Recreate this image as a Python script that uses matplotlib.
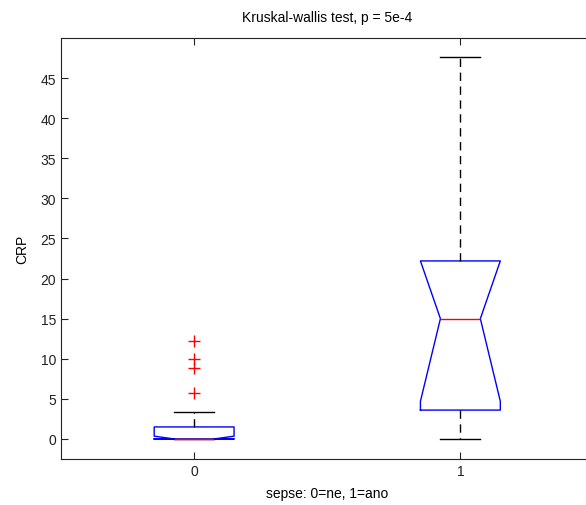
import matplotlib
matplotlib.use("Agg")
import matplotlib.pyplot as plt

# Box summary values (CRP by sepsis group)
groups = [0, 1]
q1 = [0.0, 3.6]
med = [0.0, 15.0]
q3 = [1.5, 22.2]
whislo = [0.0, 0.0]
whishi = [3.35, 47.6]
ci_lo = [0.0, 4.7]
ci_hi = [0.35, 22.2]
outliers = [[5.7, 8.9, 10.0, 12.2], []]
yticks = list(range(0, 50, 5))

stats = []
for i in range(len(groups)):
    stats.append(dict(med=med[i], q1=q1[i], q3=q3[i], whislo=whislo[i],
                      whishi=whishi[i], cilo=ci_lo[i], cihi=ci_hi[i],
                      fliers=outliers[i], label=str(groups[i])))

plt.rcParams['font.family'] = ['Liberation Sans', 'DejaVu Sans']
fig = plt.figure(figsize=(5.86, 5.06), dpi=100)
# axes run past the right edge of the picture, like the cropped original
ax = fig.add_axes([0.1041, 0.0909, 0.9087, 0.832])

ax.bxp(stats, positions=groups, widths=0.3, shownotches=True,
       boxprops=dict(color='blue', linewidth=1),
       medianprops=dict(color='red', linewidth=1),
       whiskerprops=dict(color='black', linewidth=1, linestyle=(0, (6, 4))),
       capprops=dict(color='black', linewidth=1),
       flierprops=dict(marker='+', markeredgecolor='red', markersize=9,
                       markeredgewidth=1, linestyle='none'))

ax.set_xlim(-0.5, 1.5)
ax.set_ylim(-2.5, 50)
ax.set_yticks(yticks)
ax.set_xticks(groups)
ax.set_xticklabels([str(g) for g in groups])
ax.tick_params(direction='in', length=5, top=True, right=False,
               labelsize=10, colors='#222222', width=0.8)
for s in ax.spines.values():
    s.set_color('#222222')
    s.set_linewidth(0.8)
ax.spines['right'].set_visible(False)

ax.set_title('Kruskal-wallis test, p = 5e-4', fontsize=10, pad=12)
ax.set_xlabel('sepse: 0=ne, 1=ano', fontsize=10, labelpad=6)
ax.set_ylabel('CRP', fontsize=10, labelpad=8)

fig.savefig('out.png', dpi=100)
